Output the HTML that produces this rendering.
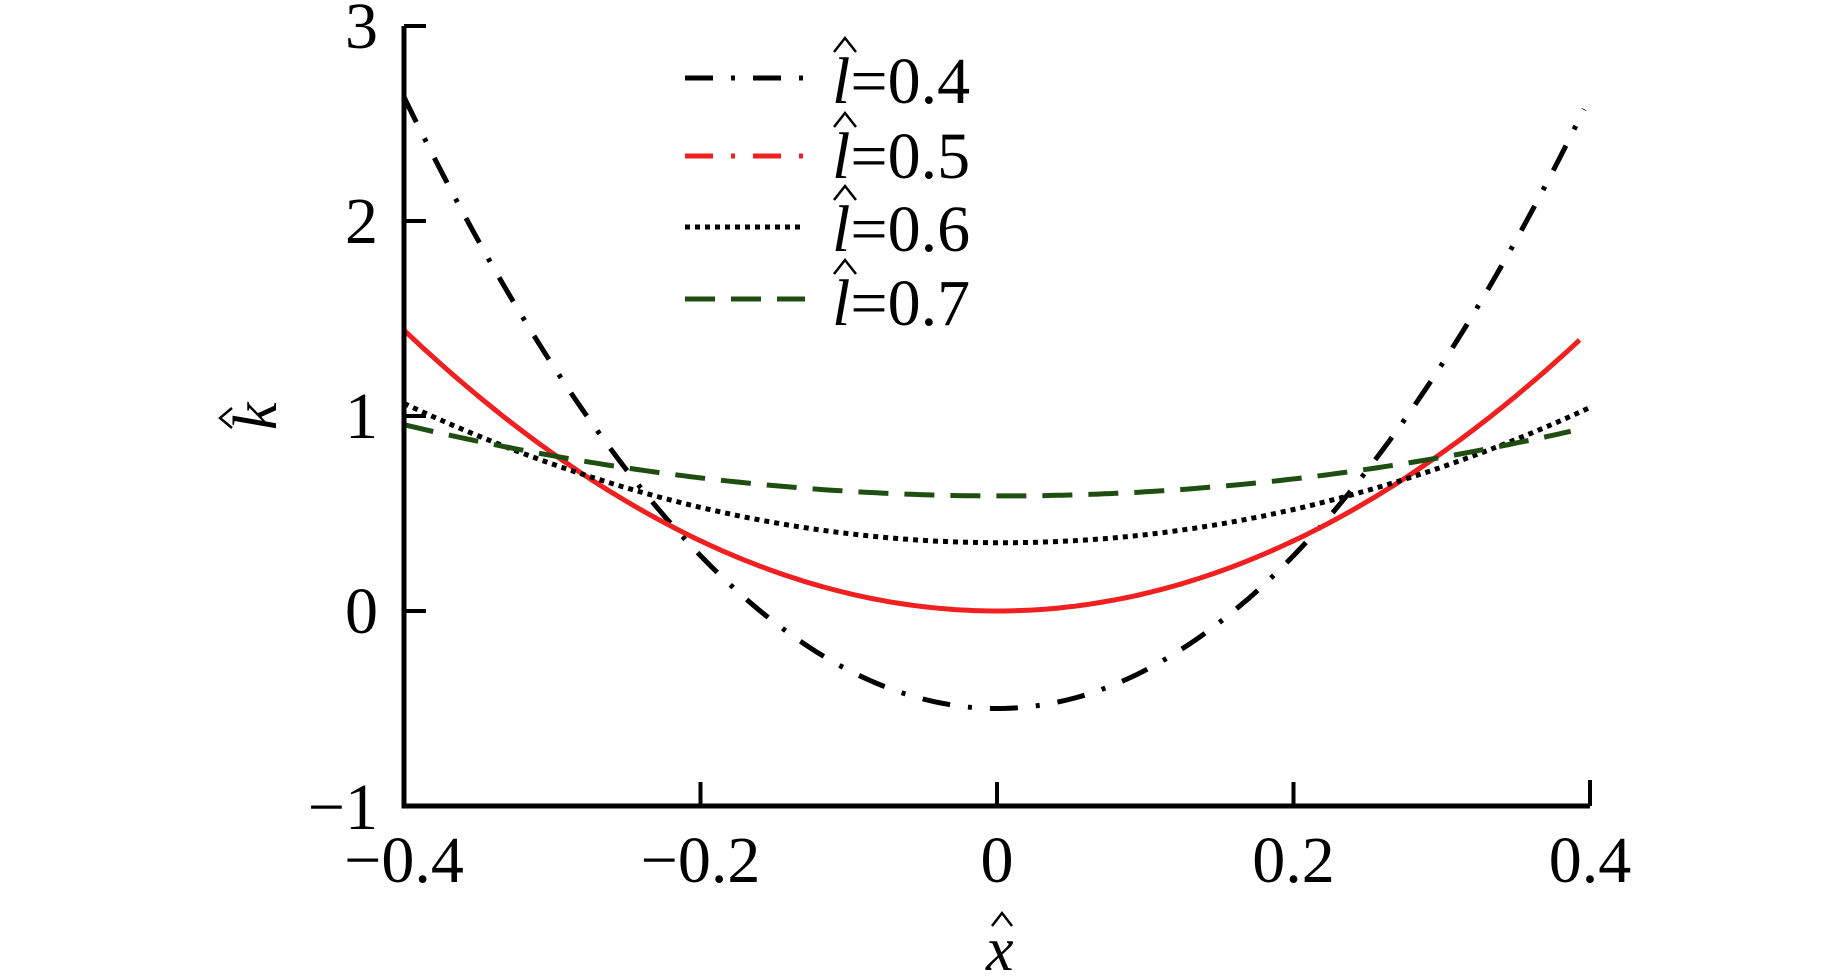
<!DOCTYPE html>
<html><head><meta charset="utf-8"><style>
html,body{margin:0;padding:0;background:#fff;}
svg{display:block;font-family:"Liberation Serif",serif;}
</style></head><body>
<svg id="s" width="1843" height="976" viewBox="0 0 1843 976" xmlns="http://www.w3.org/2000/svg">
<rect width="1843" height="976" fill="#fff"/>
<g id="curves" fill="none" stroke-width="5"></g>
<path d="M404,26 V806 H1590" fill="none" stroke="#000" stroke-width="5"/>
<g stroke="#000" stroke-width="4">
<line x1="404" y1="26" x2="426" y2="26"/>
<line x1="404" y1="221" x2="426" y2="221"/>
<line x1="404" y1="416" x2="426" y2="416"/>
<line x1="404" y1="611" x2="426" y2="611"/>
<line x1="700.5" y1="806" x2="700.5" y2="782"/>
<line x1="997" y1="806" x2="997" y2="782"/>
<line x1="1293.5" y1="806" x2="1293.5" y2="782"/>
<line x1="1590" y1="806" x2="1590" y2="780"/>
</g>
<g font-size="66" fill="#000" text-anchor="end">
<text x="378" y="48">3</text>
<text x="378" y="243">2</text>
<text x="378" y="438">1</text>
<text x="378" y="633">0</text>
<text x="378" y="829">−1</text>
</g>
<g font-size="66" fill="#000" text-anchor="middle">
<text x="404" y="882">−0.4</text>
<text x="700.5" y="882">−0.2</text>
<text x="997" y="882">0</text>
<text x="1293.5" y="882">0.2</text>
<text x="1590" y="882">0.4</text>
</g>
<g fill="none" stroke="#000" stroke-width="2.5">
<path d="M992,926 L1002,913 L1012,926"/>
<g transform="translate(232,418) rotate(-90)"><path d="M-10,0 L0,-12 L10,0"/></g>
<path d="M834,52 L845,38 L856,52"/>
<path d="M834,127 L845,113 L856,127"/>
<path d="M834,200 L845,186 L856,200"/>
<path d="M834,274 L845,260 L856,274"/>
</g>
<g font-size="62" font-style="italic" fill="#000">
<text x="986" y="970">x</text>
<g transform="translate(276,415) rotate(-90)"><text x="-15" y="0">k</text></g>
</g>
<g stroke-width="5" fill="none">
<line x1="685" y1="78" x2="805" y2="78" stroke="#000" stroke-dasharray="28,18,4,18"/>
<line x1="685" y1="156" x2="805" y2="156" stroke="#f02020" stroke-dasharray="28,18,4,18"/>
<line x1="685" y1="227" x2="805" y2="227" stroke="#000" stroke-dasharray="5,5"/>
<line x1="685" y1="299" x2="805" y2="299" stroke="#1f4f10" stroke-dasharray="30,16"/>
</g>
<g font-size="66" fill="#000">
<text x="832" y="103"><tspan font-style="italic">l</tspan>=0.4</text>
<text x="832" y="178"><tspan font-style="italic">l</tspan>=0.5</text>
<text x="832" y="251"><tspan font-style="italic">l</tspan>=0.6</text>
<text x="832" y="325"><tspan font-style="italic">l</tspan>=0.7</text>
</g>
</svg>
<script>
(function(){
var g=document.getElementById('curves');
function X(x){return 997+x*1482.5;}
function Y(k){return 611-k*195;}
var S=[
 {a:19.6,m:-0.5,x0:0.0,x1:0.396,c:'#000',d:'28,18,4,18'},
 {a:9.0,m:0.0,x0:0.0,x1:0.393,c:'#f02020',d:''},
 {a:4.4,m:0.35,x0:0.003,x1:0.4,c:'#000',d:'5,5'},
 {a:2.25,m:0.59,x0:0.003,x1:0.387,c:'#1f4f10',d:'30,16'}
];
S.forEach(function(s){
 var d='';
 for(var i=0;i<=200;i++){var x=-0.4+(s.x1+0.4)*i/200;var k=s.a*(x-s.x0)*(x-s.x0)+s.m;d+=(i?'L':'M')+X(x).toFixed(1)+','+Y(k).toFixed(1);}
 var p=document.createElementNS('http://www.w3.org/2000/svg','path');
 p.setAttribute('d',d);p.setAttribute('stroke',s.c);
 if(s.d)p.setAttribute('stroke-dasharray',s.d);
 g.appendChild(p);
});
})();
</script>
</body></html>
